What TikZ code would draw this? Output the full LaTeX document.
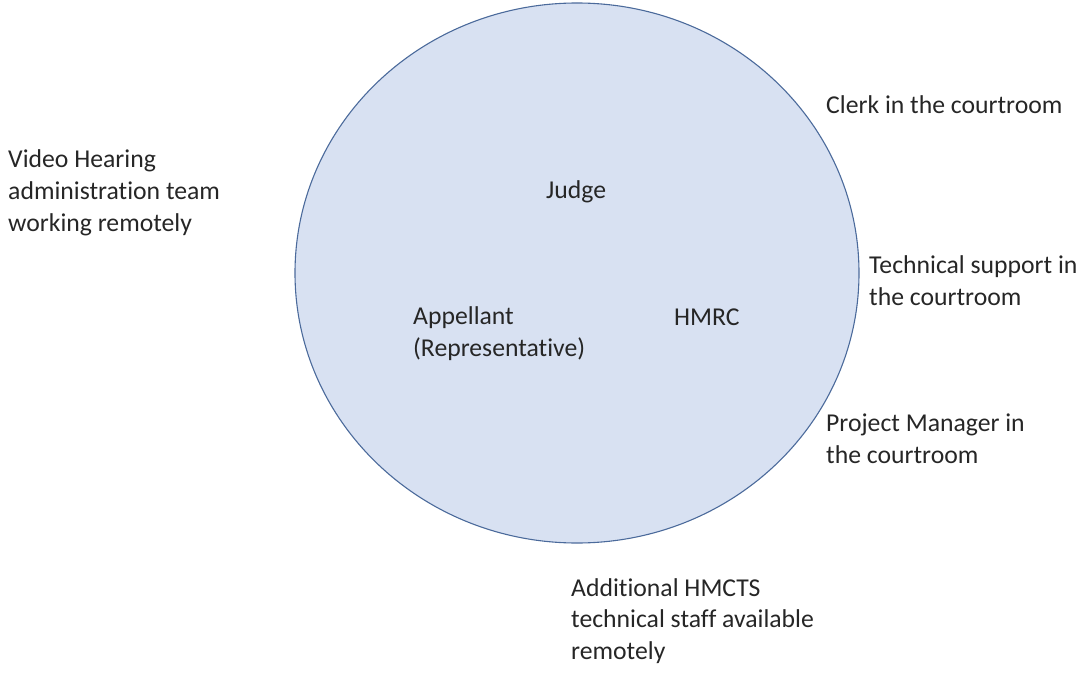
\documentclass[tikz,border=0pt]{standalone}
\usepackage{fontspec}
\setmainfont{Carlito}[RawFeature=-liga]
\usetikzlibrary{shapes.geometric}
\definecolor{circfill}{HTML}{D8E1F2}
\definecolor{circline}{HTML}{4B6A9B}
\definecolor{txt}{HTML}{262626}
\begin{document}
\begin{tikzpicture}[x=1bp,y=-1bp,
  lbl/.style={anchor=base west,inner sep=0pt,align=left,text=txt,
    font=\fontsize{25.7bp}{31.5bp}\selectfont}]
\useasboundingbox (0,0) rectangle (1081,693);
\node[draw=circline,line width=1.1bp,fill=circfill,ellipse,minimum width=564bp,minimum height=540bp,inner sep=0pt] (room) at (577,273) {};
% base anchor = baseline of the last line
\node[lbl] (clerk) at (826,114) {Clerk in the courtroom};
\node[lbl] (video) at (8,231) {Video Hearing\\administration team\\working remotely};
\node[lbl] (judge) at (546,199) {Judge};
\node[lbl] (tech) at (869,305) {Technical support in\\the courtroom};
\node[lbl] (appellant) at (413,356) {Appellant\\(Representative)};
\node[lbl] (hmrc) at (674,325) {HMRC};
\node[lbl] (pm) at (826,463) {Project Manager in\\the courtroom};
\node[lbl] (extra) at (571,659) {Additional HMCTS\\technical staff available\\remotely};
\end{tikzpicture}
\end{document}
